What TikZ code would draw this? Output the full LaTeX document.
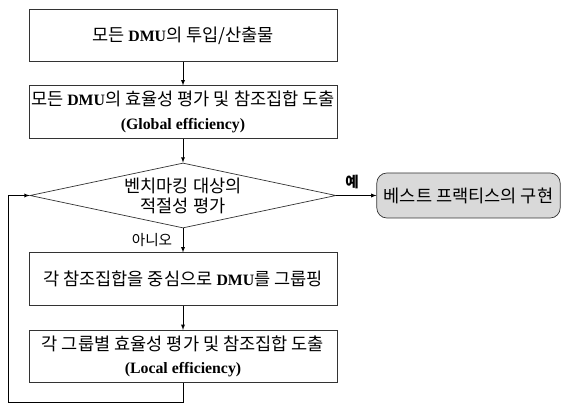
\documentclass[tikz,border=0pt]{standalone}
\usepackage{fontspec}
\setmainfont{Liberation Serif}
\newfontfamily\kr{Noto Sans CJK KR}
\usetikzlibrary{shapes.geometric}
\newcommand{\lat}[1]{{\fontsize{13.5}{20}\selectfont\bfseries #1}}

\tikzset{
  procbox/.style={draw=black!80, line width=0.6pt, minimum width=9.24cm,
    minimum height=1.57cm, inner sep=0pt, align=center,
    font=\fontsize{15}{20}\selectfont},
  decbox/.style={draw=black!80, line width=0.6pt, diamond, aspect=4.7,
    minimum width=9.18cm, minimum height=1.95cm, inner sep=0pt, align=center,
    font=\fontsize{15}{17}\selectfont},
  endbox/.style={draw=black!80, line width=0.6pt, fill=black!15,
    rounded corners=0.3cm, minimum width=5.5cm, minimum height=1.35cm,
    inner sep=0pt, font=\fontsize{15}{17}\selectfont},
  answer/.style={inner sep=0pt, font=\fontsize{12.5}{14}\selectfont}
}

\begin{document}
\begin{tikzpicture}[x=0.03cm,y=-0.03cm,>=latex,line width=0.6pt]
      \useasboundingbox (0,0) rectangle (562,404);
      \node[procbox] (inputs) at (183,35.5)
        {{\kr 모든 }\lat{DMU}{\kr 의 투입/산출물}};
      \node[procbox] (globaleff) at (183,112)
        {{\kr 모든 }\lat{DMU}{\kr 의 효율성 평가 및 참조집합 도출}\\\lat{(Global efficiency)}};
      \node[decbox] (check) at (183,195.5)
        {{\kr 벤치마킹 대상의}\\{\kr 적절성 평가}};
      \node[endbox] (best) at (468.5,195.5) {\kr 베스트 프랙티스의 구현};
      \node[procbox] (grouping) at (183,279)
        {{\kr 각 참조집합을 중심으로 }\lat{DMU}{\kr 를 그룹핑}};
      \node[procbox] (localeff) at (183,356.5)
        {{\kr 각 그룹별 효율성 평가 및 참조집합 도출}\\\lat{(Local efficiency)}};
      \coordinate (loopb) at (183,402);
      \coordinate (loopl) at (8,402);

      \draw[->] (inputs) -- (globaleff);
      \draw[->] (globaleff) -- (check);
      \draw[->] (check) -- (grouping);
      \draw[->] (grouping) -- (localeff);
      \draw[->] (check) -- (best);
      \draw[->] (localeff) -- (loopb) -- (loopl) |- (check.west);

      \node[answer] (yes) at (352,182) {\kr\bfseries 예};
      \node[answer] (no) at (152,240) {\kr 아니오};
\end{tikzpicture}
\end{document}
